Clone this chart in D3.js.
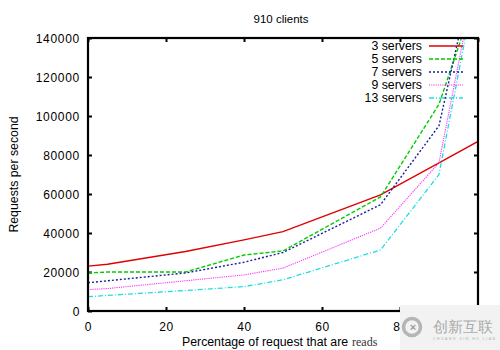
<!DOCTYPE html>
<html><head><meta charset="utf-8">
<script src="https://cdn.jsdelivr.net/npm/d3@7"></script>
<style>body{margin:0;background:#fff}svg{display:block}text{font-family:"Liberation Sans",Arial,sans-serif}</style>
</head><body><svg id="c" width="500" height="350"></svg>
<script>
const percentReads = [0, 5, 25, 40, 50, 75, 90, 100];
const servers3  = [23000, 24000, 30500, 36500, 40700, 59500, 76000, 87000];
const servers5  = [19500, 20000, 20000, 28700, 30800, 58500, 106000, 165000];
const servers7  = [14500, 15500, 19500, 25000, 30000, 54500, 95000, 185000];
const servers9  = [11000, 11500, 15500, 18500, 22000, 42500, 76000, 178000];
const servers13 = [7300, 8000, 10500, 12500, 16000, 31300, 70000, 174000];
const seriesNames = ["3 servers", "5 servers", "7 servers", "9 servers", "13 servers"];
const xTicks = [0, 20, 40, 60, 80, 100];
const yTicks = [0, 20000, 40000, 60000, 80000, 100000, 120000, 140000];

const svg = d3.select("#c");
const L = 88, R = 478, T = 38, B = 311;
const x = d3.scaleLinear().domain([0, 100]).range([L, R]);
const y = d3.scaleLinear().domain([0, 140000]).range([B, T]);

const styles = [
  {c: "#e00000", d: null, w: 1.4},
  {c: "#00cc00", d: "4,2", w: 1.4},
  {c: "#1c1c9c", d: "2,2", w: 1.4},
  {c: "#ff33ff", d: "1.2,1", w: 1.1},
  {c: "#22dddd", d: "5,2,1,2", w: 1.3}
];
const all = [servers3, servers5, servers7, servers9, servers13];

svg.append("defs").append("clipPath").attr("id", "clip")
  .append("rect").attr("x", L).attr("y", T).attr("width", R - L).attr("height", B - T);

// title
svg.append("text").attr("x", 281).attr("y", 23).attr("text-anchor", "middle")
  .attr("font-size", 11.5).text("910 clients");

// axes with inward ticks
const ax = svg.append("g");
const bottom = d3.axisBottom(x).tickValues(xTicks).tickSize(-4).tickPadding(11)
  .tickFormat(d => d === 100 ? "" : d);
const left = d3.axisLeft(y).tickValues(yTicks).tickSize(-4).tickPadding(8).tickFormat(d3.format("d"));
const gB = ax.append("g").attr("transform", `translate(0,${B})`).call(bottom);
const gL = ax.append("g").attr("transform", `translate(${L},0)`).call(left);
const gT = ax.append("g").attr("transform", `translate(0,${T})`).call(d3.axisTop(x).tickValues(xTicks).tickSize(-4).tickFormat(""));
const gR = ax.append("g").attr("transform", `translate(${R},0)`).call(d3.axisRight(y).tickValues(yTicks).tickSize(-4).tickFormat(""));
[gB, gL, gT, gR].forEach(g => {
  g.select(".domain").remove();
  g.selectAll(".tick line").attr("stroke", "#000").attr("stroke-width", 2);
  g.selectAll("text").attr("fill", "#000").attr("font-family", "Liberation Sans, Arial, sans-serif")
    .attr("font-size", 12).attr("letter-spacing", 0.7);
});
gL.selectAll("text").attr("dy", "0.35em");

// lines
const line = d3.line().x((d, i) => x(percentReads[i])).y(d => y(d));
const lg = svg.append("g").attr("clip-path", "url(#clip)");
all.forEach((s, k) => {
  lg.append("path").datum(s).attr("d", line).attr("fill", "none")
    .attr("stroke", styles[k].c).attr("stroke-width", styles[k].w)
    .attr("stroke-dasharray", styles[k].d);
});

// frame
svg.append("rect").attr("x", L).attr("y", T).attr("width", R - L).attr("height", B - T)
  .attr("fill", "none").attr("stroke", "#000").attr("stroke-width", 2.2);

// legend
seriesNames.forEach((n, k) => {
  const yy = 46 + k * 13;
  svg.append("text").attr("x", 422).attr("y", yy).attr("dy", "0.35em")
    .attr("text-anchor", "end").attr("font-size", 12.3).text(n);
  svg.append("line").attr("x1", 429).attr("x2", 463).attr("y1", yy).attr("y2", yy)
    .attr("stroke", styles[k].c).attr("stroke-width", styles[k].w)
    .attr("stroke-dasharray", styles[k].d);
});

// axis labels
svg.append("text").attr("transform", `translate(18,${(T + B) / 2}) rotate(-90)`)
  .attr("text-anchor", "middle").attr("font-size", 12.3).text("Requests per second");
const xl = svg.append("text").attr("x", 182).attr("y", 346).attr("font-size", 12.3);
xl.append("tspan").text("Percentage of request that are");
xl.append("tspan").attr("x", 352).attr("font-family", "Liberation Serif, serif").attr("font-size", 12).attr("fill", "#333").text("reads");

// watermark overlay
const wm = svg.append("g");
wm.append("rect").attr("x", 400).attr("y", 305).attr("width", 100).attr("height", 45).attr("fill", "#f2f2f2");
wm.append("circle").attr("cx", 412).attr("cy", 327).attr("r", 8.5).attr("fill", "none").attr("stroke", "#b5b5b5").attr("stroke-width", 3.5);
wm.append("text").attr("x", 413).attr("y", 331).attr("text-anchor", "middle").attr("font-size", 11).attr("font-weight", "bold").attr("fill", "#9a9a9a").text("×");
wm.append("text").attr("x", 433).attr("y", 332).attr("font-family", "Noto Sans CJK SC").attr("font-size", 15).attr("fill", "#aaaaaa").text("创新互联");
wm.append("text").attr("x", 433).attr("y", 340).attr("font-size", 3.5).attr("fill", "#b0b0b0").attr("textLength", 62).text("CHUANG XIN HU LIAN");
</script></body></html>
